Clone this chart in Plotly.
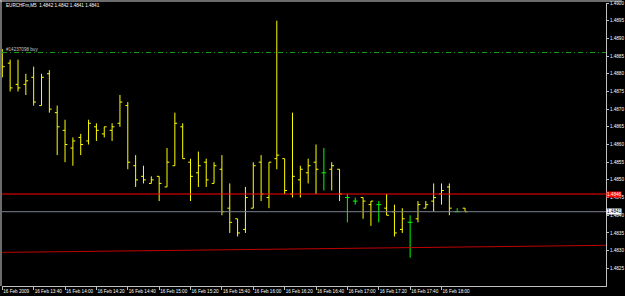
import pandas as pd
import plotly.graph_objects as go

# ---------------- data ----------------
symbol_title = "EURCHFm,M5  1.4842 1.4842 1.4841 1.4841"
times = pd.date_range("2009-02-16 13:20", periods=60, freq="5min")

opens = [1.4884, 1.4883, 1.4877, 1.4877, 1.4879, 1.4871, 1.4880, 1.4869, 1.4864, 1.4859,
         1.4862, 1.4861, 1.4865, 1.4863, 1.4864, 1.4866, 1.4871, 1.4854, 1.4851, 1.4849,
         1.4851, 1.4848, 1.4854, 1.4865, 1.4855, 1.4852, 1.4855, 1.4849, 1.4853, 1.4842,
         1.4839, 1.4836, 1.4842, 1.4855, 1.4845, 1.4856, 1.4856, 1.4846, 1.4850, 1.4852,
         1.4855, 1.4852, 1.4853, 1.4853, 1.4845, 1.4844, 1.4845, 1.4843, 1.4843, 1.4842,
         1.4841, 1.4836, 1.4838, 1.4839, 1.4842, 1.4844, 1.4846, 1.4848, 1.4841, 1.4842]
highs = [1.4887, 1.4884, 1.4884, 1.4880, 1.4882, 1.4880, 1.4881, 1.4871, 1.4867, 1.4862,
         1.4863, 1.4867, 1.4866, 1.4865, 1.4866, 1.4874, 1.4872, 1.4857, 1.4854, 1.4851,
         1.4851, 1.4859, 1.4869, 1.4866, 1.4856, 1.4858, 1.4856, 1.4855, 1.4857, 1.4849,
         1.4839, 1.4848, 1.4855, 1.4857, 1.4855, 1.4895, 1.4856, 1.4869, 1.4854, 1.4856,
         1.4860, 1.4859, 1.4855, 1.4853, 1.4846, 1.4845, 1.4845, 1.4844, 1.4844, 1.4846,
         1.4843, 1.4842, 1.4840, 1.4844, 1.4844, 1.4849, 1.4849, 1.4849, 1.4842, 1.4842]
lows = [1.4879, 1.4875, 1.4875, 1.4874, 1.4871, 1.4871, 1.4869, 1.4857, 1.4855, 1.4854,
        1.4857, 1.4860, 1.4861, 1.4862, 1.4861, 1.4865, 1.4853, 1.4848, 1.4849, 1.4849,
        1.4844, 1.4848, 1.4854, 1.4856, 1.4844, 1.4848, 1.4848, 1.4849, 1.4840, 1.4835,
        1.4834, 1.4835, 1.4842, 1.4844, 1.4842, 1.4853, 1.4846, 1.4845, 1.4845, 1.4849,
        1.4846, 1.4847, 1.4847, 1.4844, 1.4838, 1.4843, 1.4839, 1.4837, 1.4838, 1.4840,
        1.4834, 1.4835, 1.4828, 1.4838, 1.4842, 1.4841, 1.4843, 1.4840, 1.4841, 1.4841]
closes = [1.4882, 1.4876, 1.4876, 1.4878, 1.4872, 1.4879, 1.4870, 1.4865, 1.4860, 1.4861,
          1.4860, 1.4866, 1.4864, 1.4865, 1.4865, 1.4872, 1.4855, 1.4850, 1.4850, 1.4850,
          1.4849, 1.4855, 1.4866, 1.4856, 1.4851, 1.4854, 1.4850, 1.4854, 1.4841, 1.4838,
          1.4835, 1.4845, 1.4854, 1.4846, 1.4855, 1.4857, 1.4847, 1.4851, 1.4853, 1.4854,
          1.4853, 1.4852, 1.4854, 1.4846, 1.4845, 1.4844, 1.4844, 1.4844, 1.4843, 1.4840,
          1.4835, 1.4839, 1.4838, 1.4843, 1.4843, 1.4845, 1.4847, 1.4842, 1.4841, 1.4841]

bid_price = 1.4841
ask_price = 1.4846
order_price = 1.4886
order_label = "#14237098 buy"
trend_prices = [1.48295, 1.48315]

y_ticks = [1.4825, 1.4830, 1.4835, 1.4840, 1.4845, 1.4850, 1.4855, 1.4860, 1.4865,
           1.4870, 1.4875, 1.4880, 1.4885, 1.4890, 1.4895, 1.4900]
x_tick_times = ["2009-02-16 13:20", "2009-02-16 13:40", "2009-02-16 14:00", "2009-02-16 14:20",
                "2009-02-16 14:40", "2009-02-16 15:00", "2009-02-16 15:20", "2009-02-16 15:40",
                "2009-02-16 16:00", "2009-02-16 16:20", "2009-02-16 16:40", "2009-02-16 17:00",
                "2009-02-16 17:20", "2009-02-16 17:40", "2009-02-16 18:00"]
x_tick_labels = ["16 Feb 2009", "16 Feb 13:40", "16 Feb 14:00", "16 Feb 14:20", "16 Feb 14:40",
                 "16 Feb 15:00", "16 Feb 15:20", "16 Feb 15:40", "16 Feb 16:00", "16 Feb 16:20",
                 "16 Feb 16:40", "16 Feb 17:00", "16 Feb 17:20", "16 Feb 17:40", "16 Feb 18:00"]

# ---------------- layout geometry ----------------
W, H = 625, 296
ML, MR, MT, MB = 2, 19, 3, 10
PW, PH = W - ML - MR, H - MT - MB
bar_px = 7.843          # pixel spacing between 5-minute bars
first_bar_px = 2.3      # pixel position of the first bar
step = pd.Timedelta(minutes=5)
x_start = times[0] + step * ((ML - first_bar_px) / bar_px)
x_end = times[0] + step * ((ML + PW - first_bar_px) / bar_px)

FONT = "Liberation Sans"
FS = 4.6

def pxx(px):
    return (px - ML) / PW

def pxy(py):
    return (MT + PH - py) / PH

# ---------------- traces ----------------
doji = [o == c for o, c in zip(opens, closes)]
def pick(arr, flag):
    return [v for v, d in zip(arr, doji) if d == flag]

fig = go.Figure()
for flag, col in [(False, "#FFFF00"), (True, "#00FF00")]:
    fig.add_trace(go.Ohlc(
        x=pick(list(times), flag), open=pick(opens, flag), high=pick(highs, flag),
        low=pick(lows, flag), close=pick(closes, flag),
        increasing=dict(line=dict(color=col, width=1)),
        decreasing=dict(line=dict(color=col, width=1)),
        tickwidth=0.3, showlegend=False, hoverinfo="skip"))

# trend line (red)
fig.add_trace(go.Scatter(x=[times[0], x_end], y=trend_prices, mode="lines",
                         line=dict(color="#C00000", width=1), showlegend=False, hoverinfo="skip"))

shapes = [
    dict(type="line", xref="paper", yref="y", x0=0, x1=1, y0=ask_price, y1=ask_price,
         line=dict(color="#FF0000", width=1)),
    dict(type="line", xref="paper", yref="y", x0=0, x1=1, y0=bid_price, y1=bid_price,
         line=dict(color="#7A8090", width=1)),
    dict(type="line", xref="paper", yref="y", x0=0, x1=1, y0=order_price, y1=order_price,
         line=dict(color="#11A011", width=1, dash="5px,3px,1px,3px")),
    # window frame (top and left)
    dict(type="line", xref="paper", yref="paper", x0=pxx(0), x1=pxx(622), y0=pxy(1), y1=pxy(1),
         line=dict(color="#D8D8D8", width=1)),
    dict(type="line", xref="paper", yref="paper", x0=pxx(1), x1=pxx(1), y0=pxy(0), y1=pxy(286),
         line=dict(color="#D8D8D8", width=1)),
]

annotations = [
    dict(text=symbol_title, xref="paper", yref="paper", x=pxx(4), y=pxy(6),
         xanchor="left", yanchor="middle", showarrow=False,
         font=dict(family=FONT, size=FS, color="#FFFFFF")),
    dict(text=order_label, xref="paper", yref="paper", x=pxx(4), y=pxy(49),
         xanchor="left", yanchor="middle", showarrow=False,
         font=dict(family=FONT, size=FS, color="#C8C8C8")),
    dict(text=f"{ask_price:.4f}", xref="paper", yref="y", x=1, y=ask_price,
         xanchor="left", yanchor="middle", showarrow=False, bgcolor="#FF0000", borderpad=0,
         font=dict(family=FONT, size=FS, color="#FFFFFF")),
    dict(text=f"{bid_price:.4f}", xref="paper", yref="y", x=1, y=bid_price,
         xanchor="left", yanchor="middle", showarrow=False, bgcolor="#FFFFFF", borderpad=0,
         font=dict(family=FONT, size=FS, color="#000000")),
]

fig.update_layout(
    width=W, height=H, margin=dict(l=ML, r=MR, t=MT, b=MB, autoexpand=False),
    paper_bgcolor="#000000", plot_bgcolor="#000000",
    shapes=shapes, annotations=annotations, showlegend=False,
    font=dict(family=FONT, size=FS, color="#FFFFFF"),
    xaxis=dict(type="date", range=[x_start, x_end], rangeslider=dict(visible=False),
               tickvals=x_tick_times, ticktext=x_tick_labels, ticks="outside", ticklen=3,
               tickangle=0, automargin=False,
               tickcolor="#C0C0C0", showgrid=False, zeroline=False, showline=True,
               linecolor="#C0C0C0", linewidth=1, ticklabelposition="outside right",
               tickfont=dict(family=FONT, size=FS, color="#FFFFFF")),
    yaxis=dict(side="right", range=[1.4820, 1.4900], tickvals=y_ticks, tickformat=".4f",
               automargin=False,
               ticks="outside", ticklen=2, tickcolor="#C0C0C0", showgrid=False, zeroline=False,
               showline=True, linecolor="#C0C0C0", linewidth=1,
               tickfont=dict(family=FONT, size=FS, color="#FFFFFF")),
)

fig.write_html("out.html")
